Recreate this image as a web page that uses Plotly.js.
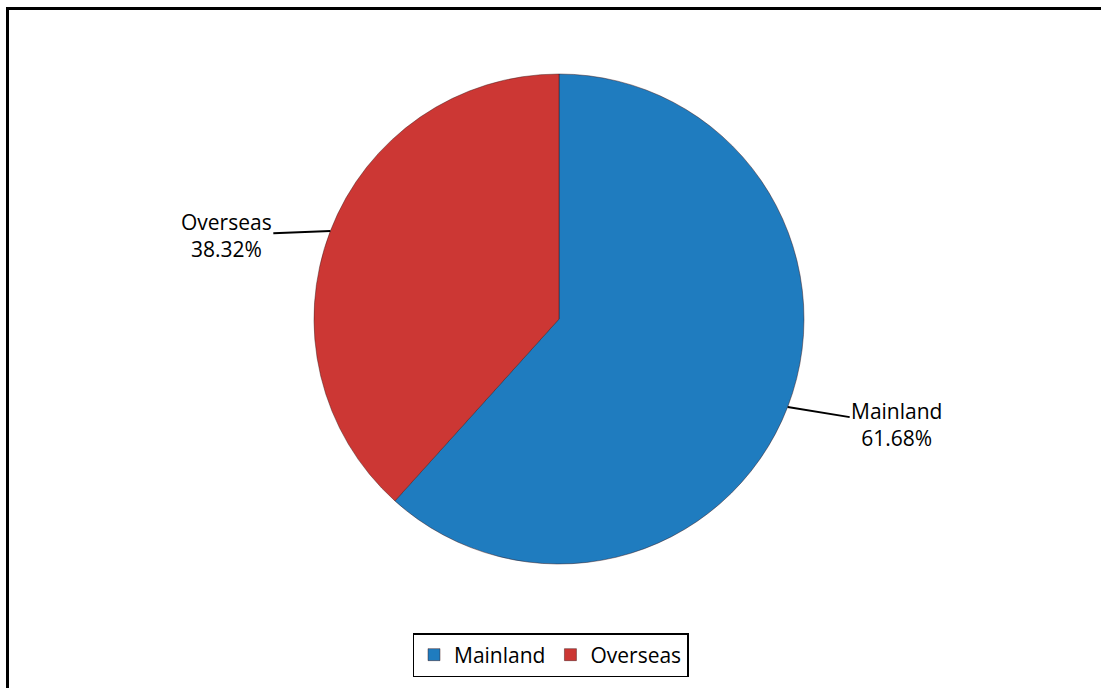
<!DOCTYPE html>
<html>
<head>
<meta charset="utf-8">
<script src="https://cdn.plot.ly/plotly-3.0.1.min.js"></script>
<style>
  html, body { margin: 0; padding: 0; background: #ffffff; }
  #wrap { position: relative; width: 1101px; height: 688px; }
  #chart { width: 1101px; height: 688px; }
  #frame { position: absolute; left: 6px; top: 7px; width: 1200px; height: 800px;
           border-left: 3px solid #000; border-top: 3px solid #000; pointer-events: none; }
</style>
</head>
<body>
<div id="wrap">
  <div id="chart"></div>
  <div id="frame"></div>
</div>
<script>
// ---- data ----
const categories = ["Mainland", "Overseas"];
const shares = [61.68, 38.32];
const sliceColors = ["#1f7cbf", "#cc3734"];

// ---- layout constants ----
const W = 1101, H = 688;
const cx = 559, cy = 319, R = 245;
const labelOffsets = [[109, 18], [-104, 4]];

const total = shares.reduce((a, b) => a + b, 0);
let cum = 0;
const annotations = categories.map((c, i) => {
  const mid = (cum + shares[i] / 2) / total;
  cum += shares[i];
  const th = 2 * Math.PI * mid;
  const px = cx + R * Math.sin(th);
  const py = cy - R * Math.cos(th);
  return {
    xref: "paper", yref: "paper",
    x: px / W, y: 1 - py / H,
    text: c + "<br>" + shares[i].toFixed(2) + "%",
    showarrow: true, arrowhead: 0, arrowwidth: 2, arrowcolor: "#000",
    ax: labelOffsets[i][0], ay: labelOffsets[i][1],
    standoff: 0,
    align: "center",
    font: { family: "Open Sans, sans-serif", size: 21, color: "#000" }
  };
});

const trace = {
  type: "pie",
  labels: categories,
  values: shares,
  sort: false,
  direction: "clockwise",
  rotation: 0,
  textinfo: "none",
  hoverinfo: "label+percent",
  marker: { colors: sliceColors, line: { color: "rgba(60,20,20,0.45)", width: 1 } },
  domain: { x: [(cx - R) / W, (cx + R) / W], y: [1 - (cy + R) / H, 1 - (cy - R) / H] }
};

const layout = {
  width: W, height: H,
  margin: { l: 0, r: 0, t: 0, b: 0 },
  paper_bgcolor: "#ffffff",
  showlegend: true,
  legend: {
    orientation: "h",
    x: 0.5, xanchor: "center",
    y: 1 - 633 / H, yanchor: "top",
    bordercolor: "#000", borderwidth: 1.5,
    font: { family: "Open Sans, sans-serif", size: 21, color: "#000" },
    itemwidth: 30
  },
  annotations: annotations
};

Plotly.newPlot("chart", [trace], layout, { displayModeBar: false, staticPlot: true });
</script>
</body>
</html>
